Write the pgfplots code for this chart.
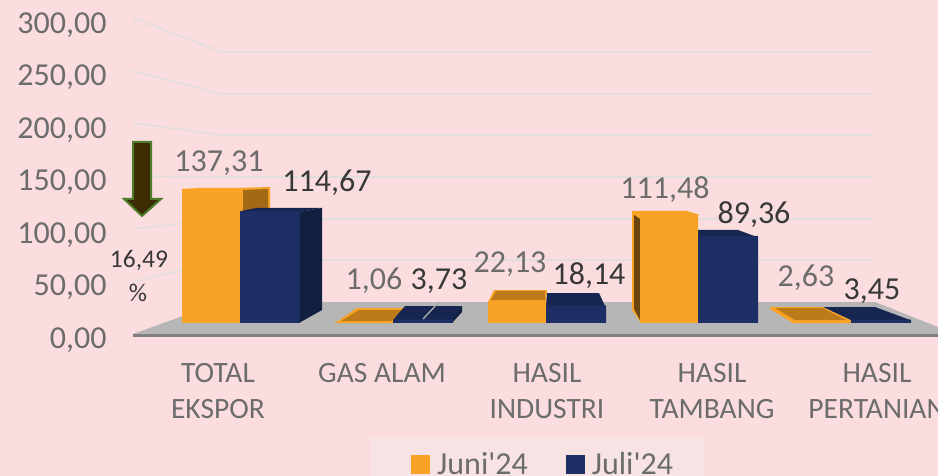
\documentclass[border=0pt]{standalone}
\usepackage{pgfplots}
\usepackage{fontspec}
\setmainfont{Carlito}
\pgfplotsset{compat=1.18}
\definecolor{bg}{HTML}{FBDDDF}
\definecolor{gridc}{HTML}{E3DEDE}
\definecolor{floorc}{HTML}{B6B6B6}
\definecolor{linec}{HTML}{7F7F7F}
\definecolor{org}{HTML}{F9A326}
\definecolor{orgtop}{HTML}{BC7A1B}
\definecolor{orgside}{HTML}{A36A16}
\definecolor{orgdark}{HTML}{6B4510}
\definecolor{nav}{HTML}{1C2E63}
\definecolor{navtop}{HTML}{172650}
\definecolor{navside}{HTML}{12203F}
\definecolor{txtg}{HTML}{6C6C6C}
\definecolor{txtd}{HTML}{383838}
\definecolor{legbg}{HTML}{F7E3E3}
\definecolor{arrf}{HTML}{3B2C04}
\definecolor{arrd}{HTML}{4E7D2C}
\newcommand{\lab}[4]{\node[text=#1,font=\fontsize{32}{38}\selectfont,inner sep=0pt] at (#2pt,{476pt-#3pt-3pt}) {#4};}
\pgfplotsset{poly/.style={fill=#1,draw=none,line width=0pt,mark=none,forget plot}}
\begin{document}
\begin{tikzpicture}
% pixel-space layer: background, gridlines, floor, 3D faces
\begin{axis}[at={(0pt,0pt)},anchor=south west,scale only axis,width=938pt,height=476pt,
  xmin=0,xmax=938,ymin=0,ymax=476,y dir=reverse,axis lines=none,clip=true,
  axis background/.style={fill=bg}]
\addplot[gridc,line width=1.7pt] coordinates {(133,18)(222,52)(872,52)};
\addplot[gridc,line width=1.7pt] coordinates {(133,71)(222,94)(872,94)};
\addplot[gridc,line width=1.7pt] coordinates {(133,123)(222,135)(872,135)};
\addplot[gridc,line width=1.7pt] coordinates {(133,176)(222,177)(872,177)};
\addplot[gridc,line width=1.7pt] coordinates {(133,229)(222,219)(872,219)};
\addplot[gridc,line width=1.7pt] coordinates {(133,282)(222,260)(872,260)};
\addplot[poly=floorc] coordinates {(133,334)(222,302)(875,302)(938,327)(938,334)} --cycle;
\addplot[linec,line width=3pt] coordinates {(133,335)(938,335)};
\addplot[poly=legbg] coordinates {(370,437)(703,437)(703,476)(370,476)} --cycle;
% TOTAL EKSPOR
\addplot[poly=org] coordinates {(183,189)(200,188)(270,188)(240,190)} --cycle;
\addplot[poly=org] coordinates {(240,188)(270,187)(270,300)(240,300)} --cycle;
\addplot[poly=orgside] coordinates {(243,190)(268,189)(268,300)(243,300)} --cycle;
\addplot[poly=navtop] coordinates {(241,211)(256,208)(322,208)(300,212)} --cycle;
\addplot[poly=navside] coordinates {(299,212)(322,208)(322,310)(299,323)} --cycle;
% GAS ALAM
\addplot[poly=org] coordinates {(335,323)(357,308)(405,308)(393,323)} --cycle;
\addplot[poly=orgtop] coordinates {(341,321)(359,310)(403,310)(391,321)} --cycle;
\addplot[poly=navtop] coordinates {(393,320)(405,306)(462,306)(453,320)} --cycle;
\addplot[poly=navside] coordinates {(452,320)(462,306)(462,312)(452,323)} --cycle;
% HASIL INDUSTRI
\addplot[poly=org] coordinates {(488,302)(494,290)(547,290)(546,302)} --cycle;
\addplot[poly=orgtop] coordinates {(491,300)(496,291)(545,291)(545,300)} --cycle;
\addplot[poly=navtop] coordinates {(546,306)(547,293)(599,293)(605,306)} --cycle;
% HASIL TAMBANG
\addplot[poly=org] coordinates {(632,211)(687,211)(700,215)(640,215)} --cycle;
\addplot[poly=org] coordinates {(632,211)(641,214)(641,323)(632,310)} --cycle;
\addplot[poly=orgdark] coordinates {(634,215)(640,219)(640,320)(634,309)} --cycle;
\addplot[poly=navtop] coordinates {(698,230)(738,230)(757,237)(698,237)} --cycle;
% HASIL PERTANIAN
\addplot[poly=org] coordinates {(770,307)(823,307)(851,320)(851,323)(793,323)(770,309)} --cycle;
\addplot[poly=orgtop] coordinates {(775,308)(822,308)(846,320)(795,320)} --cycle;
\addplot[poly=navtop] coordinates {(823,307)(875,307)(910,320)(851,320)} --cycle;
\end{axis}
% tick axis: value labels and category labels
\begin{axis}[at={(112pt,136pt)},anchor=south west,scale only axis,width=826pt,height=315pt,
  xmin=112,xmax=938,ymin=0,ymax=300,ytick={0,50,100,150,200,250,300},
  xtick={218,382,547,712,877},
  xticklabels={TOTAL\\EKSPOR,GAS ALAM,HASIL\\INDUSTRI,HASIL\\TAMBANG,HASIL\\PERTANIAN},
  axis line style={draw=none},major tick length=0pt,
  yticklabel style={text=txtg,xshift=-2pt,font=\fontsize{32}{38}\selectfont,/pgf/number format/.cd,fixed,fixed zerofill,precision=2,use comma,assume math mode=true},
  xticklabel style={text=txtg,font=\fontsize{29.5}{36}\selectfont,align=center,anchor=north,yshift=-23pt,inner sep=0pt},
  clip=false]
\addplot[draw=none,forget plot] coordinates {(200,0)(300,300)};
\end{axis}
% bars
\begin{axis}[at={(0pt,0pt)},anchor=south west,scale only axis,width=938pt,height=476pt,
  xmin=0,xmax=938,ymin=-156.76,ymax=330.94,axis lines=none,clip=false,
  legend style={at={(axis cs:411,-145)},anchor=west,draw=none,fill=none,legend columns=2,inner sep=0pt,
    text=txtg,font=\fontsize{32}{38}\selectfont,
    nodes={inner xsep=0pt},
    /tikz/every even column/.append style={column sep=38pt},
    /tikz/every odd column/.append style={column sep=7pt}},
  legend cell align=left]
\addplot[ybar,fill=org,draw=none,bar width=58pt,bar shift=-29pt,
  legend image code/.code={\fill[org] (0pt,-9.5pt) rectangle (19pt,9.5pt);}]
  coordinates {(240,137.31)(393,1.06)(546,22.13)(698,111.48)(851,2.63)};
\addplot[ybar,fill=nav,draw=none,bar width=60pt,bar shift=30pt,
  legend image code/.code={\fill[nav] (0pt,-9.5pt) rectangle (19pt,9.5pt);}]
  coordinates {(240,114.67)(393,3.73)(546,18.14)(698,89.36)(851,3.45)};
\legend{Juni\textquotesingle 24,Juli\textquotesingle 24}
\end{axis}
% leader line
\draw[color=black!32,line width=1.3pt] (423pt,{476pt-319pt}) -- (439pt,{476pt-302pt});
% value labels
\lab{txtg}{219}{160}{137,31}
\lab{txtd}{327}{180}{114,67}
\lab{txtg}{374}{278}{1,06}
\lab{txtd}{439}{278}{3,73}
\lab{txtg}{510}{261}{22,13}
\lab{txtd}{589}{273}{18,14}
\lab{txtg}{665}{187}{111,48}
\lab{txtd}{754}{212}{89,36}
\lab{txtg}{806}{275}{2,63}
\lab{txtd}{872}{288}{3,45}
% arrow and percentage
\draw[fill=arrf,draw=arrd,line width=2pt,line join=miter]
  (133pt,{476pt-142pt}) -- (151pt,{476pt-142pt}) -- (151pt,{476pt-199pt}) -- (161pt,{476pt-199pt})
  -- (142pt,{476pt-216pt}) -- (124pt,{476pt-199pt}) -- (133pt,{476pt-199pt}) -- cycle;
\node[text=txtd,font=\fontsize{25.5}{28}\selectfont,inner sep=0pt] at (139pt,{476pt-261pt}) {16,49};
\node[text=txtd,font=\fontsize{25.5}{28}\selectfont,inner sep=0pt] at (138pt,{476pt-293pt}) {\%};
\pgfresetboundingbox
\path[use as bounding box] (0pt,0pt) rectangle (938pt,476pt);
\end{tikzpicture}
\end{document}
